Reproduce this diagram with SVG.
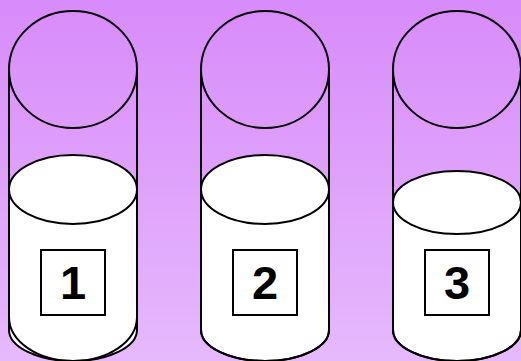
<svg xmlns="http://www.w3.org/2000/svg" width="521" height="361" viewBox="0 0 521 361">
<defs>
<linearGradient id="bg" x1="0" y1="0" x2="0" y2="1">
<stop offset="0" stop-color="#d88bfa"/>
<stop offset="1" stop-color="#e6b9fd"/>
</linearGradient>
<style>
.ln{fill:none;stroke:#000;stroke-width:2}
.liq{fill:#fff;stroke:#000;stroke-width:2}
.box{fill:#fff;stroke:#000;stroke-width:2}
.lbl{font-family:"Liberation Sans",Arial,sans-serif;font-weight:bold;font-size:47px;fill:#000;text-anchor:middle}
</style>
</defs>
<rect width="521" height="361" fill="url(#bg)"/>
<g id="cylinder1">
<path class="liq" d="M9,189.5 V330 A64,31 0 0 0 137,330 V189.5 Z"/>
<ellipse class="liq" cx="73" cy="189.5" rx="64" ry="34.5"/>
<path class="ln" d="M9,69.5 V317 A64,44 0 0 0 137,317 V69.5"/>
<ellipse class="ln" cx="73" cy="69.5" rx="64" ry="58.5"/>
<rect class="box" x="41" y="250" width="64" height="65"/>
<text class="lbl" x="73" y="299">1</text>
</g>
<g id="cylinder2">
<path class="liq" d="M201,189.5 V330 A64,31 0 0 0 329,330 V189.5 Z"/>
<ellipse class="liq" cx="265" cy="189.5" rx="64" ry="34.5"/>
<path class="ln" d="M201,69.5 V330 A64,31 0 0 0 329,330 V69.5"/>
<ellipse class="ln" cx="265" cy="69.5" rx="64" ry="58.5"/>
<rect class="box" x="233" y="250" width="64" height="65"/>
<text class="lbl" x="265" y="299">2</text>
</g>
<g id="cylinder3">
<path class="liq" d="M393,202.5 V330 A64,31 0 0 0 521,330 V202.5 Z"/>
<ellipse class="liq" cx="457" cy="202.5" rx="64" ry="31.5"/>
<path class="ln" d="M393,69.5 V330 A64,31 0 0 0 521,330 V69.5"/>
<ellipse class="ln" cx="457" cy="69.5" rx="64" ry="58.5"/>
<rect class="box" x="425" y="250" width="64" height="65"/>
<text class="lbl" x="457" y="299">3</text>
</g>
<g id="connectors"/>
</svg>
